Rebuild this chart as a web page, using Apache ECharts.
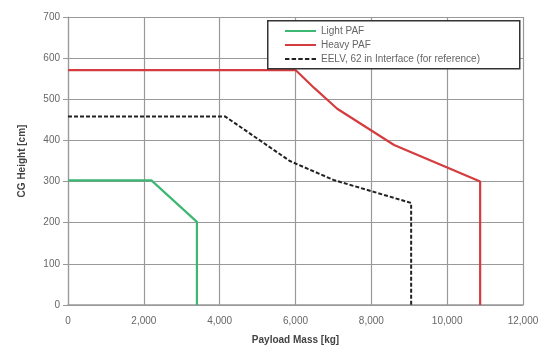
<!DOCTYPE html>
<html>
<head>
<meta charset="utf-8">
<script src="https://cdn.jsdelivr.net/npm/echarts@6/dist/echarts.min.js"></script>
<style>html,body{margin:0;padding:0;background:#fff}#c{width:544px;height:350px}</style>
</head>
<body>
<div id="c"></div>
<script>
const seriesNames = ['Light PAF', 'Heavy PAF', 'EELV, 62 in Interface (for reference)'];
const lightPAF = [[0, 303], [2200, 303], [3400, 202], [3400, 0]];
const heavyPAF = [[0, 571], [6000, 571], [6500, 527], [7100, 477], [8600, 389], [10000, 334], [10870, 300], [10870, 0]];
const eelv = [[0, 458], [4150, 458], [5850, 350], [7000, 304], [9050, 248], [9050, 0]];
const xTicks = [0, 2000, 4000, 6000, 8000, 10000, 12000];
const yTicks = [0, 100, 200, 300, 400, 500, 600, 700];

const chart = echarts.init(document.getElementById('c'), null, {renderer: 'canvas'});
const fontFam = 'Liberation Sans, Arial, sans-serif';
chart.setOption({
  animation: false,
  backgroundColor: '#fff',
  grid: {left: 68, right: 21, top: 17, bottom: 44},
  graphic: [{
    type: 'rect', left: 267, top: 20, z: 100,
    shape: {width: 252, height: 48},
    style: {fill: '#fff', stroke: '#333', lineWidth: 1.5}
  }],
  legend: {
    orient: 'vertical', left: 280, top: 21, z: 110,
    itemWidth: 31, itemHeight: 10, itemGap: 4,
    textStyle: {fontSize: 10, color: '#666', fontFamily: fontFam},
    data: seriesNames.map((n, i) => ({name: n, icon: i === 2 ? 'path://M0,4L4,4L4,6L0,6ZM6,4L10,4L10,6L6,6ZM12,4L16,4L16,6L12,6ZM18,4L22,4L22,6L18,6ZM24,4L28,4L28,6L24,6Z' : 'path://M0,4L31,4L31,6L0,6Z'}))
  },
  xAxis: {
    type: 'value', min: 0, max: 12000, interval: 2000,
    name: 'Payload Mass [kg]', nameLocation: 'middle', nameGap: 30,
    nameTextStyle: {fontSize: 10, fontWeight: 'bold', color: '#444', fontFamily: fontFam},
    axisLine: {show: true, lineStyle: {color: '#999', width: 1.5}},
    axisTick: {show: false},
    axisLabel: {fontSize: 10, color: '#666', fontFamily: fontFam, margin: 11,
      formatter: v => xTicks.includes(v) ? v.toLocaleString('en-US') : ''},
    splitLine: {show: true, lineStyle: {color: '#999', width: 1.2}}
  },
  yAxis: {
    type: 'value', min: 0, max: 700, interval: 100,
    name: 'CG Height [cm]', nameLocation: 'middle', nameGap: 41, nameRotate: 90,
    nameTextStyle: {fontSize: 10, fontWeight: 'bold', color: '#444', fontFamily: fontFam},
    axisLine: {show: true, lineStyle: {color: '#999', width: 1.2}},
    axisTick: {show: true, length: 5, lineStyle: {color: '#999'}},
    axisLabel: {fontSize: 10, color: '#666', fontFamily: fontFam, margin: 8,
      formatter: v => yTicks.includes(v) ? String(v) : ''},
    splitLine: {show: true, lineStyle: {color: '#999', width: 1.2}}
  },
  series: [
    {name: seriesNames[0], type: 'line', data: lightPAF, symbol: 'none', z: 3,
     lineStyle: {color: '#3db873', width: 2.2}, itemStyle: {color: '#3db873'}},
    {name: seriesNames[1], type: 'line', data: heavyPAF, symbol: 'none', z: 3,
     lineStyle: {color: '#d43c3f', width: 2.2}, itemStyle: {color: '#d43c3f'}},
    {name: seriesNames[2], type: 'line', data: eelv, symbol: 'none', z: 3,
     lineStyle: {color: '#222', width: 2, type: [4, 2]}, itemStyle: {color: '#222'}}
  ]
});
</script>
</body>
</html>
